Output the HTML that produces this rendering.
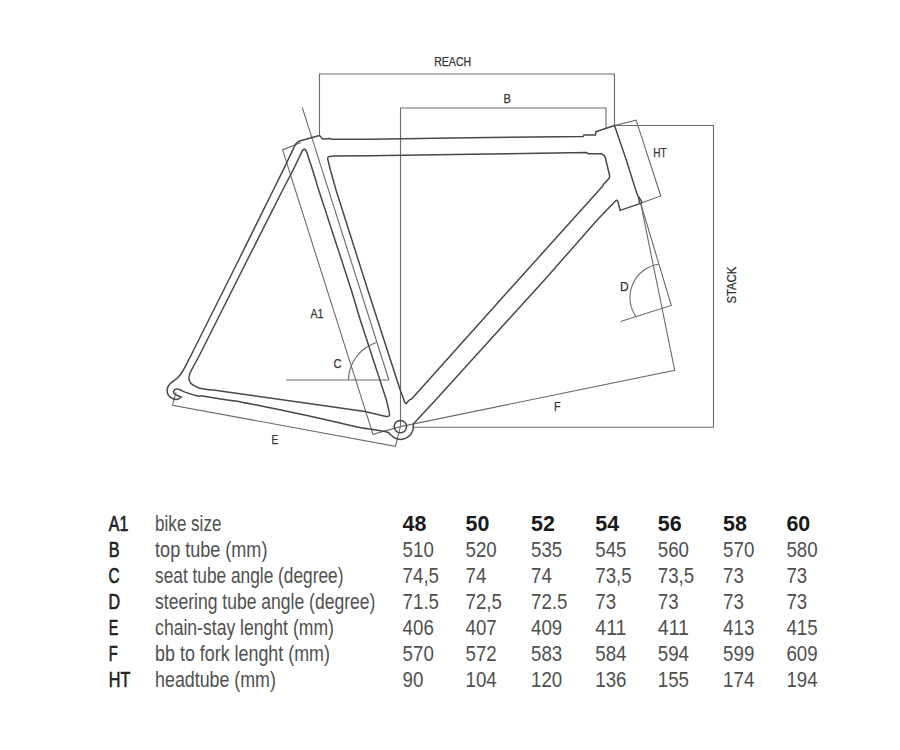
<!DOCTYPE html>
<html><head><meta charset="utf-8">
<style>
html,body{margin:0;padding:0;background:#fff;}
body{width:900px;height:750px;overflow:hidden;}
svg{display:block;}
text{font-family:"Liberation Sans",sans-serif;}
</style></head>
<body>
<svg width="900" height="750" viewBox="0 0 900 750">
<rect width="900" height="750" fill="#fff"/>
<g fill="none" stroke="#6a6a6a" stroke-width="1.1" stroke-linejoin="miter">
<path d="M319.5,135.5 V74 H614.5 V125.5"/>
<path d="M400.5,426.6 V108 H606 V127.7"/>
<path d="M614.5,125.5 H713.5 V427.2 H413"/>
<path d="M302.3,107.7 L388.9,380"/>
<path d="M286,380 H388.9"/>
<path d="M376.4,342.4 A40.5,40.5 0 0 0 348.4,380"/>
<path d="M301,142.6 L282.6,149.9 L373,434.4 L400.4,426.6"/>
<path d="M614.5,125.5 L636.1,120.1 L660.8,196 L641.2,203.1"/>
<path d="M640.6,203 L674.7,370.4 L400.4,426.6"/>
<path d="M640.6,203 L671.3,305.4 L620.6,321.5"/>
<path d="M658.4,264.3 A33.5,33.5 0 0 0 636,316.6"/>
<path d="M176.1,392.4 L172.5,405.2 L395.4,446.4 L400.4,426.6"/>
</g>
<g fill="none" stroke="#484848" stroke-width="1.5" stroke-linejoin="round">
<path d="M319.50,135.50 L322.70,139.00 L330.40,138.60 L331.60,139.20 L370.00,139.30 L470.00,137.70 L583.20,136.40 L583.90,135.00 L595.60,135.00 L595.80,131.80 L614.50,125.50 L626.30,160.00 C629.73,170.83 634.45,186.23 636.60,192.50 C638.75,198.77 638.35,196.12 639.20,197.60 C640.05,199.08 640.87,200.13 641.70,201.40 L641.20,203.10 L620.20,210.40 C619.73,208.70 619.20,206.83 618.80,205.30 C618.40,203.77 618.17,202.03 617.80,201.20 C617.43,200.37 617.03,200.30 616.60,200.30 C616.17,200.30 615.67,200.90 615.20,201.20 L598.10,219.10 L544.40,280.00 L435.60,400.00 L415.80,421.30 C415.07,422.07 414.02,423.03 413.60,423.60 C413.18,424.17 413.38,423.66 413.27,424.70 C413.16,425.74 413.44,428.16 412.96,429.84 C412.48,431.52 411.55,433.40 410.38,434.79 C409.21,436.18 407.60,437.42 405.95,438.19 C404.30,438.96 402.32,439.40 400.50,439.40 C398.68,439.40 396.70,438.96 395.05,438.19 C393.40,437.42 391.63,435.61 390.62,434.79 C389.61,433.98 389.54,433.80 389.00,433.30 C388.20,432.83 390.60,432.75 386.60,431.90 C382.60,431.05 372.20,429.43 365.00,428.20 C363.33,428.00 370.83,429.97 360.00,427.60 C349.17,425.23 320.00,418.32 300.00,414.00 C280.00,409.68 260.00,405.80 240.00,401.70 C233.33,400.80 226.48,400.00 220.00,399.00 C213.52,398.00 207.40,396.80 201.10,395.70 C200.10,395.83 200.67,396.65 198.10,396.10 C195.53,395.55 188.75,393.45 185.70,392.40 C182.65,391.35 181.33,390.35 179.80,389.80 C178.27,389.25 177.48,388.97 176.50,389.10 C175.52,389.23 174.28,389.85 173.90,390.60 C173.52,391.35 173.60,392.77 174.20,393.60 C174.80,394.43 176.32,395.07 177.50,395.60 C178.68,396.13 180.03,396.40 181.30,396.80 C180.57,397.40 180.02,398.17 179.10,398.60 C178.18,399.03 177.02,399.47 175.80,399.40 C174.58,399.33 173.08,399.00 171.80,398.20 C170.52,397.40 168.85,396.18 168.10,394.60 C167.35,393.02 166.93,390.53 167.30,388.70 C167.67,386.87 168.58,385.43 170.30,383.60 C172.02,381.77 175.55,379.73 177.60,377.70 C179.65,375.67 180.33,375.18 182.60,371.40 C184.87,367.62 188.33,360.47 191.20,355.00 L198.70,340.00 L238.70,260.00 L273.30,190.00 L283.40,169.70 L295.40,144.40 L298.60,141.30 L319.50,135.50 Z"/>
<path d="M334.30,156.10 L370.00,155.70 L470.00,154.30 L586.70,152.60 L588.20,153.70 L601.40,153.70 C602.37,154.33 603.63,154.88 604.30,155.60 C604.97,156.32 605.03,157.20 605.40,158.00 L609.70,176.00 L609.20,178.20 L603.80,184.00 L603.00,185.80 L518.90,279.30 L411.40,399.20 C410.73,399.47 410.27,399.27 409.40,400.00 C408.53,400.73 407.27,402.40 406.20,403.60 L404.60,402.00 L403.00,397.20 L400.20,390.00 L367.80,290.00 L336.00,190.00 L330.40,170.00 L327.70,159.00 C328.00,158.20 327.50,157.08 328.60,156.60 C329.70,156.12 332.40,156.27 334.30,156.10 Z"/>
<path d="M304.40,148.90 C305.10,149.00 305.80,150.63 306.50,151.50 L312.60,170.00 L318.70,190.00 L351.30,290.00 L360.30,320.00 L386.40,400.00 C387.40,404.50 389.03,410.80 389.40,413.50 C389.77,416.20 389.17,415.70 388.60,416.20 C388.03,416.70 386.87,416.40 386.00,416.50 L365.00,411.60 L240.00,393.70 L220.00,390.90 C213.70,390.07 205.23,389.18 201.10,388.40 C196.97,387.62 196.92,387.05 195.20,386.20 C193.48,385.35 191.83,384.53 190.80,383.30 C189.77,382.07 189.12,380.55 189.00,378.80 C188.88,377.05 189.18,375.18 190.10,372.80 C191.02,370.42 193.03,367.27 194.50,364.50 L199.60,355.00 L247.30,260.00 L282.70,190.00 L293.10,170.00 L302.30,150.90 C303.00,150.23 303.70,148.80 304.40,148.90 Z"/>
<path d="M638.3,196.6 Q639.2,200.5 639.7,203.3"/>
<circle cx="400.4" cy="426.6" r="6.2"/>
</g>
<g fill="#333" stroke="#333" stroke-width="0.25" font-size="12">
<text x="434.2" y="65.6" textLength="37" lengthAdjust="spacingAndGlyphs">REACH</text>
<text x="503.4" y="103" textLength="7.4" lengthAdjust="spacingAndGlyphs">B</text>
<text x="653.3" y="156.7" textLength="13.4" lengthAdjust="spacingAndGlyphs">HT</text>
<text transform="translate(735.6,303.6) rotate(-90)" font-size="12.4" textLength="36.8" lengthAdjust="spacingAndGlyphs">STACK</text>
<text x="620" y="290.7">D</text>
<text x="310.4" y="317.5" textLength="13" lengthAdjust="spacingAndGlyphs">A1</text>
<text x="333.6" y="368.4" textLength="8" lengthAdjust="spacingAndGlyphs">C</text>
<text x="554" y="411.3" textLength="6.6" lengthAdjust="spacingAndGlyphs">F</text>
<text x="271.6" y="443.6" textLength="6.8" lengthAdjust="spacingAndGlyphs">E</text>
</g>
<g fill="#222" stroke="#222" stroke-width="0.7" font-size="22.5">
<text x="108.8" y="530.7" textLength="19.5" lengthAdjust="spacingAndGlyphs">A1</text>
<text x="108.8" y="556.7" textLength="10.8" lengthAdjust="spacingAndGlyphs">B</text>
<text x="108.4" y="582.8" textLength="11" lengthAdjust="spacingAndGlyphs">C</text>
<text x="108.4" y="608.8" textLength="11.6" lengthAdjust="spacingAndGlyphs">D</text>
<text x="108.8" y="634.8" textLength="9.5" lengthAdjust="spacingAndGlyphs">E</text>
<text x="108.8" y="660.9" textLength="9" lengthAdjust="spacingAndGlyphs">F</text>
<text x="108.8" y="686.9" textLength="21.5" lengthAdjust="spacingAndGlyphs">HT</text>
</g>
<g fill="#505050" font-size="22">
<text x="155.1" y="530.7" textLength="66.3" lengthAdjust="spacingAndGlyphs">bike size</text>
<text x="155.1" y="556.7" textLength="112.3" lengthAdjust="spacingAndGlyphs">top tube (mm)</text>
<text x="155.1" y="582.8" textLength="188.3" lengthAdjust="spacingAndGlyphs">seat tube angle (degree)</text>
<text x="155.1" y="608.8" textLength="220.3" lengthAdjust="spacingAndGlyphs">steering tube angle (degree)</text>
<text x="155.1" y="634.8" textLength="178.8" lengthAdjust="spacingAndGlyphs">chain-stay lenght (mm)</text>
<text x="155.1" y="660.9" textLength="174.8" lengthAdjust="spacingAndGlyphs">bb to fork lenght (mm)</text>
<text x="155.1" y="686.9" textLength="120.8" lengthAdjust="spacingAndGlyphs">headtube (mm)</text>
</g>
<g fill="#505050" font-size="22.5">
<text x="402.6" y="530.7" font-weight="bold" fill="#1a1a1a" textLength="23.8" lengthAdjust="spacingAndGlyphs">48</text>
<text x="465.5" y="530.7" font-weight="bold" fill="#1a1a1a" textLength="23.8" lengthAdjust="spacingAndGlyphs">50</text>
<text x="531.0" y="530.7" font-weight="bold" fill="#1a1a1a" textLength="23.8" lengthAdjust="spacingAndGlyphs">52</text>
<text x="595.3" y="530.7" font-weight="bold" fill="#1a1a1a" textLength="23.8" lengthAdjust="spacingAndGlyphs">54</text>
<text x="657.8" y="530.7" font-weight="bold" fill="#1a1a1a" textLength="23.8" lengthAdjust="spacingAndGlyphs">56</text>
<text x="723.1" y="530.7" font-weight="bold" fill="#1a1a1a" textLength="23.8" lengthAdjust="spacingAndGlyphs">58</text>
<text x="786.4" y="530.7" font-weight="bold" fill="#1a1a1a" textLength="23.8" lengthAdjust="spacingAndGlyphs">60</text>
<text x="402.6" y="556.7" textLength="31.2" lengthAdjust="spacingAndGlyphs">510</text>
<text x="465.5" y="556.7" textLength="31.2" lengthAdjust="spacingAndGlyphs">520</text>
<text x="531.0" y="556.7" textLength="31.2" lengthAdjust="spacingAndGlyphs">535</text>
<text x="595.3" y="556.7" textLength="31.2" lengthAdjust="spacingAndGlyphs">545</text>
<text x="657.8" y="556.7" textLength="31.2" lengthAdjust="spacingAndGlyphs">560</text>
<text x="723.1" y="556.7" textLength="31.2" lengthAdjust="spacingAndGlyphs">570</text>
<text x="786.4" y="556.7" textLength="31.2" lengthAdjust="spacingAndGlyphs">580</text>
<text x="402.6" y="582.8" textLength="36.4" lengthAdjust="spacingAndGlyphs">74,5</text>
<text x="465.5" y="582.8" textLength="20.8" lengthAdjust="spacingAndGlyphs">74</text>
<text x="531.0" y="582.8" textLength="20.8" lengthAdjust="spacingAndGlyphs">74</text>
<text x="595.3" y="582.8" textLength="36.4" lengthAdjust="spacingAndGlyphs">73,5</text>
<text x="657.8" y="582.8" textLength="36.4" lengthAdjust="spacingAndGlyphs">73,5</text>
<text x="723.1" y="582.8" textLength="20.8" lengthAdjust="spacingAndGlyphs">73</text>
<text x="786.4" y="582.8" textLength="20.8" lengthAdjust="spacingAndGlyphs">73</text>
<text x="402.6" y="608.8" textLength="36.4" lengthAdjust="spacingAndGlyphs">71.5</text>
<text x="465.5" y="608.8" textLength="36.4" lengthAdjust="spacingAndGlyphs">72,5</text>
<text x="531.0" y="608.8" textLength="36.4" lengthAdjust="spacingAndGlyphs">72.5</text>
<text x="595.3" y="608.8" textLength="20.8" lengthAdjust="spacingAndGlyphs">73</text>
<text x="657.8" y="608.8" textLength="20.8" lengthAdjust="spacingAndGlyphs">73</text>
<text x="723.1" y="608.8" textLength="20.8" lengthAdjust="spacingAndGlyphs">73</text>
<text x="786.4" y="608.8" textLength="20.8" lengthAdjust="spacingAndGlyphs">73</text>
<text x="402.6" y="634.8" textLength="31.2" lengthAdjust="spacingAndGlyphs">406</text>
<text x="465.5" y="634.8" textLength="31.2" lengthAdjust="spacingAndGlyphs">407</text>
<text x="531.0" y="634.8" textLength="31.2" lengthAdjust="spacingAndGlyphs">409</text>
<text x="595.3" y="634.8" textLength="31.2" lengthAdjust="spacingAndGlyphs">411</text>
<text x="657.8" y="634.8" textLength="31.2" lengthAdjust="spacingAndGlyphs">411</text>
<text x="723.1" y="634.8" textLength="31.2" lengthAdjust="spacingAndGlyphs">413</text>
<text x="786.4" y="634.8" textLength="31.2" lengthAdjust="spacingAndGlyphs">415</text>
<text x="402.6" y="660.9" textLength="31.2" lengthAdjust="spacingAndGlyphs">570</text>
<text x="465.5" y="660.9" textLength="31.2" lengthAdjust="spacingAndGlyphs">572</text>
<text x="531.0" y="660.9" textLength="31.2" lengthAdjust="spacingAndGlyphs">583</text>
<text x="595.3" y="660.9" textLength="31.2" lengthAdjust="spacingAndGlyphs">584</text>
<text x="657.8" y="660.9" textLength="31.2" lengthAdjust="spacingAndGlyphs">594</text>
<text x="723.1" y="660.9" textLength="31.2" lengthAdjust="spacingAndGlyphs">599</text>
<text x="786.4" y="660.9" textLength="31.2" lengthAdjust="spacingAndGlyphs">609</text>
<text x="402.6" y="686.9" textLength="20.8" lengthAdjust="spacingAndGlyphs">90</text>
<text x="465.5" y="686.9" textLength="31.2" lengthAdjust="spacingAndGlyphs">104</text>
<text x="531.0" y="686.9" textLength="31.2" lengthAdjust="spacingAndGlyphs">120</text>
<text x="595.3" y="686.9" textLength="31.2" lengthAdjust="spacingAndGlyphs">136</text>
<text x="657.8" y="686.9" textLength="31.2" lengthAdjust="spacingAndGlyphs">155</text>
<text x="723.1" y="686.9" textLength="31.2" lengthAdjust="spacingAndGlyphs">174</text>
<text x="786.4" y="686.9" textLength="31.2" lengthAdjust="spacingAndGlyphs">194</text>
</g>
</svg>
</body></html>
